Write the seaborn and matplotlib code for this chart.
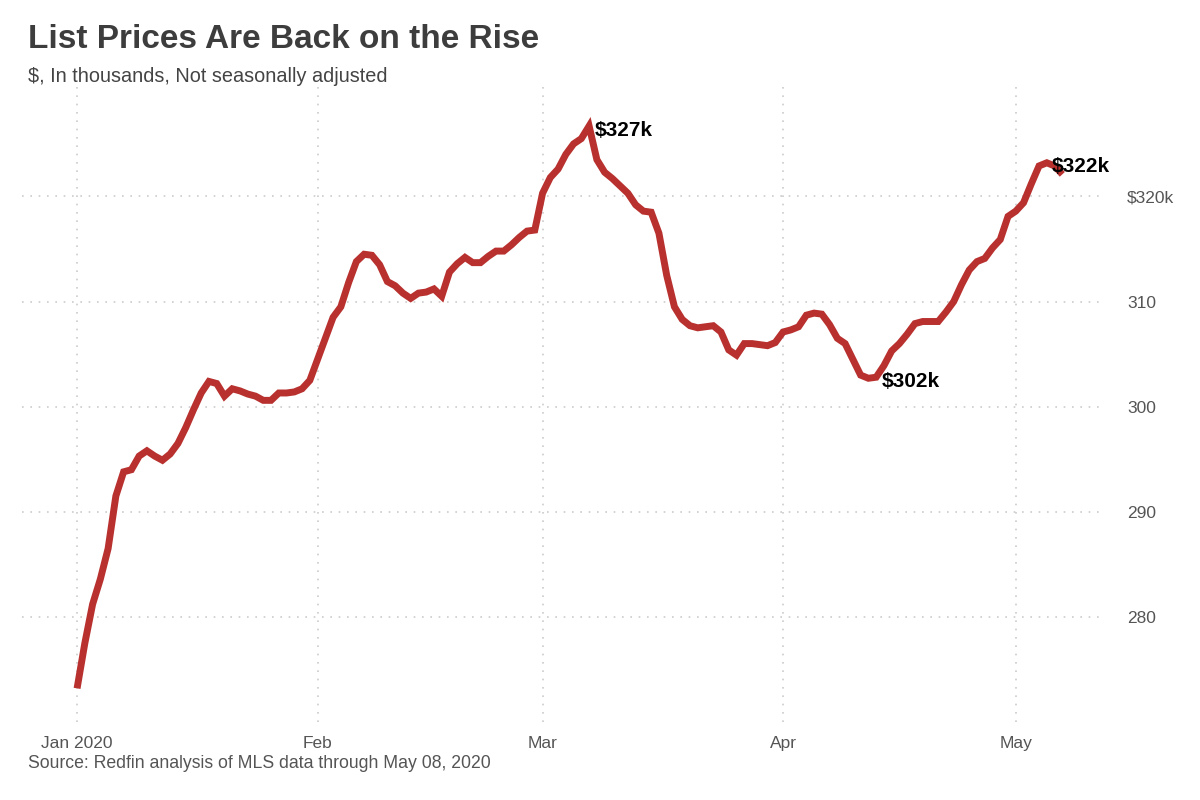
import pandas as pd
import seaborn as sns
import matplotlib.pyplot as plt

# Daily average list price ($ thousands), Jan 1 - May 7 2020
start_date = "2020-01-01"
list_price = [
    273.2, 277.5, 281.2, 283.6, 286.5, 291.5, 293.8, 294.0, 295.3, 295.8,
    295.3, 294.9, 295.5, 296.5, 298.0, 299.7, 301.3, 302.4, 302.2, 301.0,
    301.7, 301.5, 301.2, 301.0, 300.6, 300.6, 301.3, 301.3, 301.4, 301.7,
    302.5, 304.5, 306.5, 308.5, 309.5, 311.8, 313.8, 314.5, 314.4, 313.5,
    311.9, 311.5, 310.8, 310.3, 310.8, 310.9, 311.2, 310.5, 312.8, 313.6,
    314.2, 313.7, 313.7, 314.3, 314.8, 314.8, 315.4, 316.1, 316.7, 316.8,
    320.3, 321.8, 322.6, 324.0, 325.0, 325.5, 326.7, 323.5, 322.3, 321.7,
    321.0, 320.3, 319.2, 318.6, 318.5, 316.5, 312.5, 309.5, 308.3, 307.7,
    307.5, 307.6, 307.7, 307.1, 305.4, 304.9, 306.0, 306.0, 305.9, 305.8,
    306.1, 307.1, 307.3, 307.6, 308.7, 308.9, 308.8, 307.8, 306.5, 306.0,
    304.5, 303.0, 302.7, 302.8, 303.9, 305.3, 306.0, 306.9, 307.9, 308.1,
    308.1, 308.1, 309.0, 310.0, 311.6, 313.0, 313.8, 314.1, 315.1, 315.9,
    318.1, 318.6, 319.4, 321.2, 322.9, 323.2, 322.9, 322.1,
]

# labelled points: (date, value, text)
callout_dates = ["2020-03-07", "2020-04-13", "2020-05-05"]
callout_values = [326.7, 302.8, 323.2]
callout_texts = ["$327k", "$302k", "$322k"]

y_ticks = [280, 290, 300, 310, 320]
y_tick_labels = ["280", "290", "300", "310", "$320k"]
x_tick_dates = ["2020-01-01", "2020-02-01", "2020-03-01", "2020-04-01", "2020-05-01"]
x_tick_labels = ["Jan 2020", "Feb", "Mar", "Apr", "May"]

df = pd.DataFrame({
    "date": pd.date_range(start_date, periods=len(list_price), freq="D"),
    "price": list_price,
})

sns.set_theme(style="white")
plt.rcParams["font.family"] = ["Liberation Sans", "DejaVu Sans"]

fig = plt.figure(figsize=(12, 8), dpi=100)
ax = fig.add_axes([22 / 1200, 1 - 722 / 800, (1105 - 22) / 1200, (722 - 85) / 800])

sns.lineplot(data=df, x="date", y="price", ax=ax, color="#b8312f", linewidth=5,
             solid_joinstyle="miter", solid_capstyle="butt")

for d, v, t in zip(callout_dates, callout_values, callout_texts):
    ax.text(pd.Timestamp(d) + pd.Timedelta(hours=16), v - 0.4, t, fontsize=15,
            fontweight="bold", color="black", ha="left", va="center")

ax.set_xlim(pd.Timestamp(start_date) - pd.Timedelta(days=7.1),
            pd.Timestamp(start_date) + pd.Timedelta(days=132.5))
ax.set_ylim(270.0, 330.6)

ax.set_yticks(y_ticks)
ax.set_yticklabels(y_tick_labels)
ax.set_xticks([pd.Timestamp(d) for d in x_tick_dates])
ax.set_xticklabels(x_tick_labels)
ax.yaxis.tick_right()
ax.tick_params(axis="y", length=0, pad=16, labelsize=12.5, labelcolor="#555555")
ax.tick_params(axis="x", length=0, pad=10, labelsize=12.5, labelcolor="#555555")
ax.set_xlabel("")
ax.set_ylabel("")

ax.grid(True, linestyle=(0, (1, 4)), color="#cccccc", linewidth=1.2)
for s in ax.spines.values():
    s.set_visible(False)

fig.text(28 / 1200, 1 - 40 / 800, "List Prices Are Back on the Rise", fontsize=24,
         fontweight="bold", color="#3d3d3d", ha="left", va="center")
fig.text(28 / 1200, 1 - 76 / 800, "$, In thousands, Not seasonally adjusted", fontsize=14.3,
         color="#444444", ha="left", va="center")
fig.text(28 / 1200, 1 - 763 / 800, "Source: Redfin analysis of MLS data through May 08, 2020",
         fontsize=12.7, color="#555555", ha="left", va="center")

fig.savefig("out.png", dpi=100)
